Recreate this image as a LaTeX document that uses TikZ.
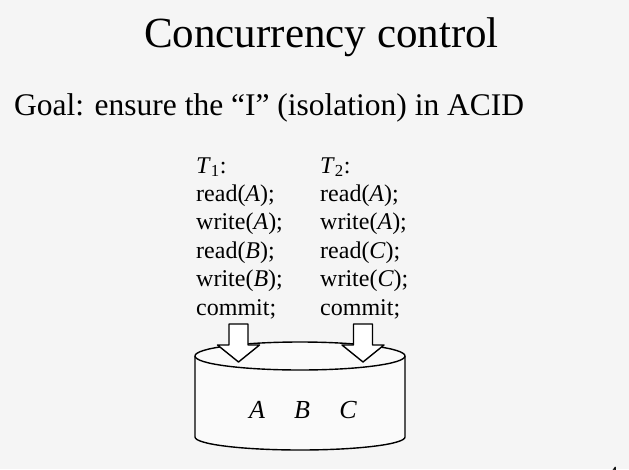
\documentclass[tikz,border=0pt]{standalone}
\usepackage{fontspec}
\setmainfont{Liberation Serif}
\usetikzlibrary{positioning}
\definecolor{slidebg}{RGB}{245,245,245}
\definecolor{dbfill}{RGB}{250,250,250}
\tikzset{codeline/.style={anchor=base west,inner sep=0pt,font=\fontsize{24}{28}\selectfont},
         dbline/.style={line width=1.4pt,line join=round},
         varlbl/.style={anchor=base,inner sep=0pt,font=\fontsize{26}{30}\selectfont\itshape},
         blockarr/.pic={\draw[dbline,fill=white] (-9.5,-38) -- (-9.5,-17) -- (-21,-17) -- (0,0)
                          -- (21,-17) -- (9.5,-17) -- (9.5,-38) -- cycle;}}

\begin{document}
\begin{tikzpicture}[x=1pt,y=-1pt]
\fill[slidebg] (0,0) rectangle (629,469);
\useasboundingbox (0,0) rectangle (629,469);
% heading
\node[anchor=base west,inner sep=0pt,font=\fontsize{43}{50}\selectfont] (title) at (144,47) {Concurrency control};
\node[anchor=base west,inner sep=0pt,font=\fontsize{31.5}{36}\selectfont] (goal) at (14,115)
   {Goal: ensure the “I” (isolation) in ACID};
% the two transactions
\foreach \ln [count=\i from 0] in {{\textit{T}\textsubscript{1}:},read(\textit{A});,write(\textit{A});,
      read(\textit{B});,write(\textit{B});,commit;}
   \node[codeline] (ta\i) at (196,{173+28.4*\i}) {\ln};
\foreach \ln [count=\i from 0] in {{\textit{T}\textsubscript{2}:},read(\textit{A});,write(\textit{A});,
      read(\textit{C});,write(\textit{C});,commit;}
   \node[codeline] (tb\i) at (320,{173+28.4*\i}) {\ln};
% database
\coordinate (dbtop) at (300,356);
\draw[dbline,fill=dbfill] (195,356) -- (195,437) arc[start angle=180,end angle=0,x radius=105,y radius=13]
   -- (405,356);
\draw[dbline,fill=dbfill] (dbtop) ellipse [x radius=105,y radius=14];
\node[varlbl] (va) at (257,418) {A};
\node[varlbl] (vb) at (302,418) {B};
\node[varlbl] (vc) at (348,418) {C};
% commits go to the database
\pic at (238.5,362) {blockarr};
\pic at (363,362) {blockarr};
% page number
\node[anchor=base,inner sep=0pt,font=\fontsize{20}{24}\selectfont] (pgno) at (613,480) {4};
\end{tikzpicture}
\end{document}
